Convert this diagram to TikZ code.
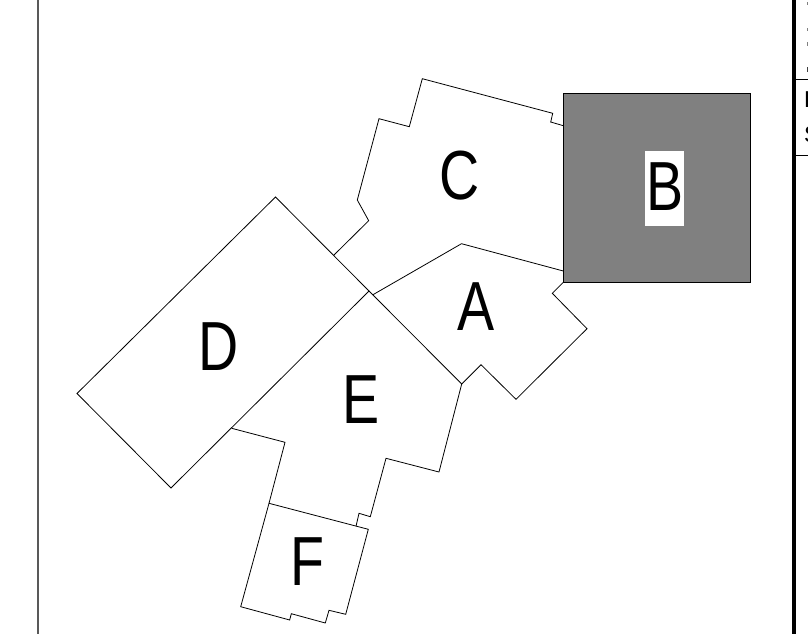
\documentclass[tikz,border=0pt]{standalone}
\usepackage{fontspec}
\setmainfont{Liberation Sans}
\tikzset{
  wall/.style={draw=black,line width=0.8pt,line join=miter,fill=none},
  framethin/.style={draw=black!65,line width=1.2pt},
  framethick/.style={draw=black,line width=4.3pt},
  rule/.style={draw=black,line width=1.3pt},
  bigletter/.style={inner sep=0pt,font=\fontsize{69.5}{69.5}\selectfont},
  sidetext/.style={inner sep=0pt,anchor=west,font=\fontsize{23}{23}\selectfont},
  shade/.style={fill=black!50,draw=none}
}
\newcommand{\narrowletter}[1]{\scalebox{0.80}[1]{#1}}
\begin{document}
\begin{tikzpicture}[x=1pt,y=-1pt]
\useasboundingbox (0,0) rectangle (808,634);
\fill[white] (0,0) rectangle (808,634);
\begin{scope}
\clip (0,0) rectangle (808,634);
% frame
\draw[framethin] (38,0) -- (38,634);
\draw[framethick] (794,0) -- (794,634);
\draw[rule] (796,79.5) -- (808,79.5);
\draw[rule] (796,155.5) -- (808,155.5);
% clipped side text
\node[sidetext] (sideE) at (804,99.5) {E};
\node[sidetext] (sideS) at (804,135) {S};
\fill[shade] (807,2) rectangle (808,5);
\fill[shade] (807,28) rectangle (808,31);
\fill[shade] (807,42) rectangle (808,46);
\fill[black!75] (807,67) rectangle (808,72);
% rooms
\draw[wall] (563.3,125.7) -- (550.7,122) -- (552.7,113.3) -- (422.3,78.7) -- (409.3,126.7) -- (379,118.7) -- (357.3,200) -- (368.7,220.7) -- (334,255);
\draw[wall] (563.3,271) -- (461.5,243.7) -- (372.8,294.8);
\draw[wall] (275.5,197) -- (369,291) -- (171,488) -- (77,393.5) -- cycle;
\draw[wall] (369,291) -- (461.7,384) -- (439,472) -- (386,458.3) -- (370.3,516.7) -- (359,513.3) -- (356,526.3);
\draw[wall] (231.7,428.3) -- (285,442.3) -- (269,503.3);
\draw[wall] (269,503.3) -- (368.3,529.3) -- (345.7,614.3) -- (329,610.3) -- (325.3,623) -- (291.3,613.7) -- (289.7,620) -- (240.7,606.7) -- cycle;
\draw[wall] (563.3,282.3) -- (552.3,293.3) -- (587,328.7) -- (516,399.3) -- (481,364.7) -- (461.7,384);
% B block
\draw[wall,fill=black!50] (563.3,93.3) rectangle (750.5,282.3);
\fill[white] (645,151) rectangle (684,226);
% labels
\node[bigletter] (labelA) at (476,307) {\narrowletter{A}};
\node[bigletter] (labelB) at (665,186.5) {\narrowletter{B}};
\node[bigletter] (labelC) at (460,176) {\narrowletter{C}};
\node[bigletter] (labelD) at (219,346.5) {\narrowletter{D}};
\node[bigletter] (labelE) at (361,399.5) {\narrowletter{E}};
\node[bigletter] (labelF) at (307,562) {\narrowletter{F}};
\end{scope}
\end{tikzpicture}
\end{document}
